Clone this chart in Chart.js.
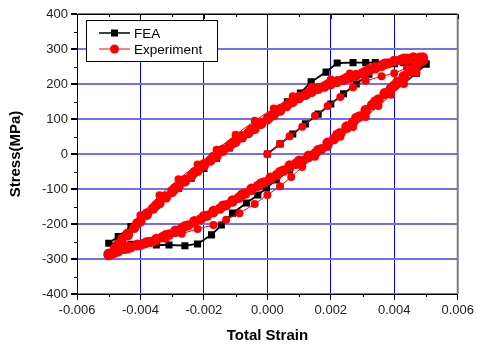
<!DOCTYPE html>
<html><head><meta charset="utf-8">
<script src="https://cdn.jsdelivr.net/npm/chart.js@4.4.1/dist/chart.umd.min.js"></script>
<style>html,body{margin:0;padding:0;background:#fff}#wrap{width:477px;height:345px}</style>
</head><body><div id="wrap"><canvas id="c" width="477" height="345"></canvas></div>
<script>
// ---- axis ticks ----
const xTickValues = [-0.006, -0.004, -0.002, 0, 0.002, 0.004, 0.006];
const xTickLabels = ["-0.006", "-0.004", "-0.002", "0.000", "0.002", "0.004", "0.006"];
const yTickValues = [-400, -300, -200, -100, 0, 100, 200, 300, 400];
const yTickLabels = ["-400", "-300", "-200", "-100", "0", "100", "200", "300", "400"];
const xMinorTicks = [-0.005, -0.003, -0.001, 0.001, 0.003, 0.005];
const yMinorTicks = [-350, -250, -150, -50, 50, 150, 250, 350];

// ---- series names ----
const seriesNames = ["FEA", "Experiment"];

// ---- FEA (strain, stress MPa) ----
const feaStrain = [0, 0.0004, 0.0008, 0.0012, 0.0016, 0.0020, 0.0024, 0.0028, 0.0032, 0.0036,
  0.0040, 0.0044, 0.0048, 0.0050,
  0.0047, 0.0043, 0.0039, 0.0035, 0.0031, 0.0027, 0.0023, 0.0019, 0.00154, 0.0011, 0.0007, 0.00028, -0.00003, -0.0003, -0.00066, -0.0011, -0.00145, -0.00176, -0.0022,
  -0.0026, -0.0031, -0.0035, -0.0039, -0.0043, -0.0047, -0.0050,
  -0.0047, -0.0043, -0.0040, -0.0036, -0.0032, -0.0028, -0.0024, -0.0020, -0.0016, -0.0012, -0.0008, -0.0004, 0.0000, 0.00028, 0.00063, 0.00104, 0.00138, 0.00185, 0.0022,
  0.0027, 0.0031, 0.0034, 0.0038, 0.0043, 0.0047, 0.0050];
const feaStress = [0, 29, 57, 86, 114, 143, 172, 200, 228, 256,
  258, 258, 258, 257,
  231, 203, 176, 149, 121, 92, 62, 32, 5, -17, -46, -74, -97, -117, -140, -169, -203, -231, -257,
  -262, -260, -260, -258, -258, -257, -255,
  -236, -207, -183, -155, -126, -98, -69, -41, -12, 17, 45, 73, 104, 120, 149, 174, 206, 234, 260,
  261, 261, 261, 261, 261, 260, 257];

// ---- Experiment: first loading, first unloading, first reloading (small dots) ----
const expFirstStrain = [0, 0.0004, 0.0007, 0.0011, 0.0015, 0.0019, 0.0023, 0.0027, 0.0031, 0.0036, 0.0040, 0.0044, 0.0048,
  0.0047, 0.0043, 0.0039, 0.0035, 0.0031, 0.0027, 0.0023, 0.0019, 0.0015, 0.0011, 0.00075, 0.0004, 0.0000, -0.0004, -0.00088, -0.0013, -0.0017, -0.0022, -0.0027, -0.0032, -0.0036, -0.0040, -0.0044, -0.0048, -0.0050,
  -0.0046, -0.0040, -0.0034, -0.0028, -0.0022, -0.0016, -0.0010, -0.0004, 0.0002, 0.0008, 0.0014, 0.0020, 0.0026, 0.0032, 0.0038, 0.0044, 0.0049];
const expFirstStress = [0, 29, 51, 78, 109, 137, 163, 191, 209, 222, 231, 246, 262,
  232, 200, 169, 137, 106, 77, 49, 20, -8, -37, -66, -92, -117, -143, -169, -188, -203, -214, -228, -242, -253, -263, -273, -284, -290,
  -240, -175, -118, -72, -30, 12, 55, 95, 130, 165, 192, 213, 230, 246, 260, 268, 270];

// ---- Experiment: stabilised cycles (large dots) ----
const expCycleStrain = [
  -0.0050, -0.0048, -0.0046, -0.0044, -0.0042, -0.0040, -0.0038, -0.0036, -0.0034, -0.0032, -0.0030, -0.0028, -0.0026, -0.0024, -0.0022, -0.0020, -0.0018, -0.0016, -0.0014, -0.0012, -0.0010, -0.0008, -0.0006, -0.0004, -0.0002, 0.0000, 0.0002, 0.0004, 0.0006, 0.0008, 0.0010, 0.0012, 0.0014, 0.0016, 0.0018, 0.0020, 0.0022, 0.0024, 0.0026, 0.0028, 0.0030, 0.0032, 0.0034, 0.0036, 0.0038, 0.0040, 0.0042, 0.0044, 0.0046, 0.0048,
  0.0049, 0.0047, 0.0045, 0.0043, 0.0041, 0.0039, 0.0037, 0.0035, 0.0033, 0.0031, 0.0029, 0.0027, 0.0025, 0.0023, 0.0021, 0.0019, 0.0017, 0.0015, 0.0013, 0.0011, 0.0009, 0.0007, 0.0005, 0.0003, 0.0001, -0.0001, -0.0003, -0.0005, -0.0007, -0.0009, -0.0011, -0.0013, -0.0015, -0.0017, -0.0019, -0.0021, -0.0023, -0.0025, -0.0027, -0.0029, -0.0031, -0.0033, -0.0035, -0.0037, -0.0039, -0.0041, -0.0043, -0.0045, -0.0047, -0.0049,
  -0.0050, -0.0047, -0.0044, -0.0041, -0.0038, -0.0035, -0.0032, -0.0029, -0.0026, -0.0023, -0.0020, -0.0017, -0.0014, -0.0011, -0.0008, -0.0005, -0.0002, 0.0001, 0.0004, 0.0007, 0.0010, 0.0013, 0.0016, 0.0019, 0.0022, 0.0025, 0.0028, 0.0031, 0.0034, 0.0037, 0.0040, 0.0043, 0.0046, 0.0049,
  0.0049, 0.0046, 0.0043, 0.0040, 0.0037, 0.0034, 0.0031, 0.0028, 0.0025, 0.0022, 0.0019, 0.0016, 0.0013, 0.0010, 0.0007, 0.0004, 0.0001, -0.0002, -0.0005, -0.0008, -0.0011, -0.0014, -0.0017, -0.0020, -0.0023, -0.0026, -0.0029, -0.0032, -0.0035, -0.0038, -0.0041, -0.0044, -0.0047, -0.0050];
const expCycleStress = [
  -289, -270, -252, -232, -211, -192, -174, -156, -140, -124, -108, -93, -78, -63, -48, -33, -19, -5, 9, 22, 35, 48, 60, 72, 86, 99, 112, 124, 137, 149, 160, 169, 178, 186, 193, 200, 206, 212, 218, 224, 231, 238, 245, 252, 259, 265, 269, 272, 274, 275,
  270, 252, 236, 222, 206, 189, 172, 156, 140, 123, 107, 91, 75, 59, 43, 28, 14, 1, -9, -19, -28, -37, -48, -60, -71, -81, -91, -102, -113, -125, -136, -146, -156, -166, -176, -186, -195, -204, -213, -222, -230, -237, -245, -251, -256, -261, -266, -271, -278, -285,
  -285, -258, -228, -198, -170, -146, -121, -98, -74, -52, -29, -8, 12, 31, 51, 70, 89, 108, 128, 146, 163, 176, 189, 199, 208, 217, 226, 236, 248, 258, 266, 272, 276, 276,
  268, 244, 219, 196, 174, 150, 126, 103, 79, 55, 32, 11, -5, -19, -33, -51, -68, -84, -99, -116, -133, -148, -163, -178, -192, -206, -219, -232, -243, -252, -259, -266, -275, -287];

const pts = (xs, ys) => xs.map((x, i) => ({ x: x, y: ys[i] }));

const FONT = "'Liberation Sans', Arial, sans-serif";

const extras = {
  id: 'extras',
  afterDraw(chart) {
    const ctx = chart.ctx, a = chart.chartArea;
    const xs = chart.scales.x, ys = chart.scales.y;
    ctx.save();
    ctx.strokeStyle = '#000'; ctx.lineWidth = 1;
    ctx.beginPath(); ctx.moveTo(a.left, a.top + 0.5); ctx.lineTo(a.right, a.top + 0.5); ctx.stroke();
    ctx.strokeStyle = '#7a7a7a'; ctx.lineWidth = 2;
    ctx.beginPath(); ctx.moveTo(a.right, a.top); ctx.lineTo(a.right, a.bottom); ctx.stroke();
    ctx.strokeStyle = '#000'; ctx.lineWidth = 1;
    ctx.beginPath();
    xMinorTicks.forEach(v => {
      const px = Math.round(xs.getPixelForValue(v)) + 0.5;
      ctx.moveTo(px, a.bottom); ctx.lineTo(px, a.bottom + 3);
      ctx.moveTo(px, a.top); ctx.lineTo(px, a.top + 3);
    });
    yMinorTicks.forEach(v => {
      const py = Math.round(ys.getPixelForValue(v)) + 0.5;
      ctx.moveTo(a.left - 3, py); ctx.lineTo(a.left, py);
    });
    xTickValues.forEach(v => {
      const px = Math.round(xs.getPixelForValue(v)) + 0.5;
      ctx.moveTo(px, a.top); ctx.lineTo(px, a.top + 5);
    });
    ctx.stroke();
    // legend
    const bx = 86, by = 20, bw = 131, bh = 41;
    ctx.fillStyle = '#fff'; ctx.fillRect(bx, by, bw, bh);
    ctx.strokeStyle = '#000'; ctx.lineWidth = 1;
    ctx.strokeRect(bx + 0.5, by + 0.5, bw, bh);
    const rows = [
      { y: 33, color: '#000', shape: 'rect', lw: 1.5 },
      { y: 49, color: '#ff0000', shape: 'circle', lw: 1 }
    ];
    ctx.font = '13.5px ' + FONT;
    ctx.textBaseline = 'middle'; ctx.textAlign = 'left';
    rows.forEach((r, i) => {
      ctx.strokeStyle = r.color; ctx.lineWidth = r.lw;
      ctx.beginPath(); ctx.moveTo(99, r.y); ctx.lineTo(130, r.y); ctx.stroke();
      ctx.fillStyle = r.color;
      if (r.shape === 'rect') { ctx.fillRect(111, r.y - 3.5, 7, 7); }
      else { ctx.beginPath(); ctx.arc(114.5, r.y, 4.5, 0, Math.PI * 2); ctx.fill(); }
      ctx.fillStyle = '#000';
      ctx.fillText(seriesNames[i], 134, r.y + 1);
    });
    ctx.restore();
  }
};

new Chart(document.getElementById('c'), {
  type: 'scatter',
  data: {
    datasets: [
      { label: seriesNames[0], data: pts(feaStrain, feaStress), showLine: true, borderColor: '#000', backgroundColor: '#000', borderWidth: 1.8,
        pointStyle: 'rect', pointRadius: 5, pointBorderWidth: 0, order: 3 },
      { label: seriesNames[1], data: pts(expFirstStrain, expFirstStress), showLine: true, borderColor: '#ff0000', backgroundColor: '#ff0000', borderWidth: 1,
        pointStyle: 'circle', pointRadius: 4, pointBorderWidth: 0, order: 2 },
      { label: seriesNames[1] + ' cycles', data: pts(expCycleStrain, expCycleStress), showLine: true, borderColor: '#ff0000', backgroundColor: '#ff0000', borderWidth: 1.2,
        pointStyle: 'circle', pointRadius: 5.2, pointBorderWidth: 0, order: 1 }
    ]
  },
  options: {
    responsive: false, animation: false, devicePixelRatio: 1,
    layout: { padding: { top: 14, right: 18, left: 0, bottom: 0 } },
    plugins: { legend: { display: false }, tooltip: { enabled: false } },
    scales: {
      x: {
        type: 'linear', min: -0.006, max: 0.006,
        afterBuildTicks: s => { s.ticks = xTickValues.map(v => ({ value: v })); },
        afterFit: s => { s.height = 51; },
        ticks: { callback: (v, i) => xTickLabels[i], color: '#222', font: { family: FONT, size: 13 }, padding: 3, maxRotation: 0 },
        grid: { color: '#0000ff', lineWidth: 1, tickColor: '#000', tickLength: 6 },
        border: { color: '#000', width: 1 },
        title: { display: true, text: 'Total Strain', color: '#000', font: { family: FONT, size: 15, weight: 'bold' }, padding: { top: 0, bottom: 0 } }
      },
      y: {
        type: 'linear', min: -400, max: 400,
        afterBuildTicks: s => { s.ticks = yTickValues.map(v => ({ value: v })); },
        afterFit: s => { s.width = 77; },
        ticks: { callback: (v, i) => yTickLabels[i], color: '#222', font: { family: FONT, size: 13 }, padding: 3 },
        grid: { color: '#6f6ff8', lineWidth: 2, tickColor: '#000', tickLength: 6 },
        border: { color: '#000', width: 1 },
        title: { display: true, text: 'Stress(MPa)', color: '#000', font: { family: FONT, size: 15, weight: 'bold' }, padding: { top: 7, bottom: 0 } }
      }
    }
  },
  plugins: [extras]
});
</script>
</body></html>
